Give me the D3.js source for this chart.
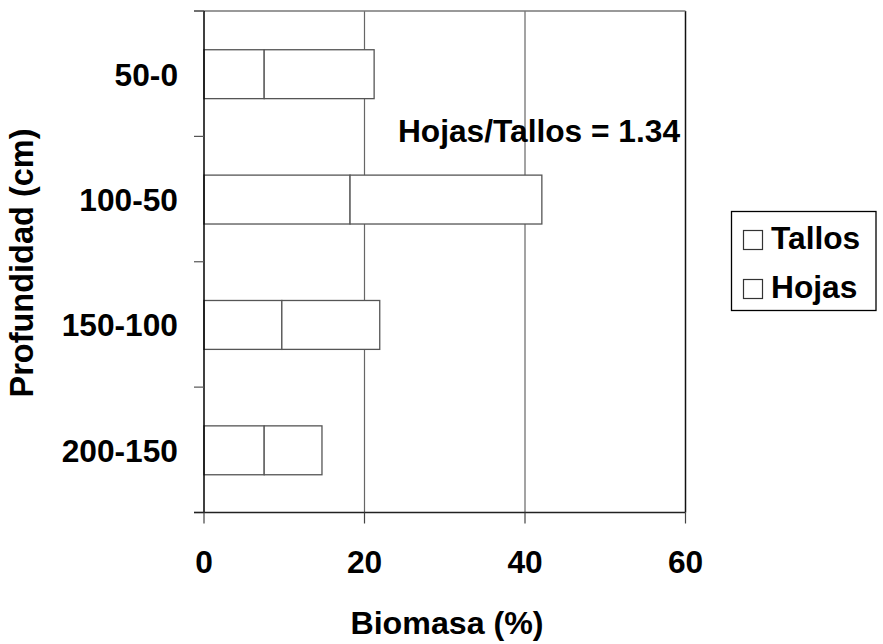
<!DOCTYPE html>
<html><head><meta charset="utf-8">
<script src="https://cdn.jsdelivr.net/npm/d3@7"></script>
<style>body{margin:0;background:#fff}svg{display:block}text{font-family:"Liberation Sans",Arial,sans-serif;font-weight:bold;fill:#000}</style>
</head><body>
<svg id="c" width="883" height="644"></svg>
<script>
const categories = ["50-0", "100-50", "150-100", "200-150"];
const seriesNames = ["Tallos", "Hojas"];
const tallos = [7.5, 18.2, 9.7, 7.5];
const hojas = [13.7, 23.9, 12.2, 7.2];
const xTicks = [0, 20, 40, 60];
const annotation = "Hojas/Tallos = 1.34";

const svg = d3.select("#c");
const L = 204, R = 685.5, T = 11, B = 512.5;
const x = d3.scaleLinear().domain([0, 60]).range([L, R]);
const y = d3.scaleBand().domain(categories).range([T, B]).paddingInner(0.61).paddingOuter(0.305);
const FS = 31.7;

// gridlines
svg.append("g").selectAll("line").data(xTicks.filter(d => d > 0)).join("line")
  .attr("x1", d => x(d)).attr("x2", d => x(d)).attr("y1", T).attr("y2", B)
  .attr("stroke", d => d === 60 ? "#111" : "#666").attr("stroke-width", d => d === 60 ? 1.5 : 1.2);
// top border line
svg.append("line").attr("x1", L - 10).attr("x2", R).attr("y1", T).attr("y2", T).attr("stroke", "#777").attr("stroke-width", 1.5);

// bars
const stackData = categories.map((c, i) => ({cat: c, vals: [tallos[i], hojas[i]]}));
const g = svg.append("g");
stackData.forEach(d => {
  let start = 0;
  d.vals.forEach((v, j) => {
    g.append("rect")
      .attr("x", x(start)).attr("y", y(d.cat) + 0.5)
      .attr("width", x(start + v) - x(start)).attr("height", y.bandwidth())
      .attr("fill", "#fff").attr("stroke", "#555").attr("stroke-width", 1.3);
    start += v;
  });
});

// y axis
svg.append("line").attr("x1", L).attr("x2", L).attr("y1", T).attr("y2", B).attr("stroke", "#000").attr("stroke-width", 1.5);
const bounds = categories.map(c => y(c) - y.step() * y.paddingInner() / 2);
bounds.push(B);
svg.append("g").selectAll("line").data(bounds).join("line")
  .attr("x1", L - 10).attr("x2", L).attr("y1", d => d).attr("y2", d => d)
  .attr("stroke", "#555").attr("stroke-width", 1.2);
svg.append("g").selectAll("text").data(categories).join("text")
  .attr("x", 178).attr("y", d => y(d) + y.bandwidth() / 2 + 12)
  .attr("text-anchor", "end").attr("font-size", FS).text(d => d);

// x axis
svg.append("line").attr("x1", L - 10).attr("x2", R).attr("y1", B).attr("y2", B).attr("stroke", "#222").attr("stroke-width", 1.5);
svg.append("g").selectAll("line").data(xTicks).join("line")
  .attr("x1", d => x(d)).attr("x2", d => x(d)).attr("y1", B).attr("y2", B + 11)
  .attr("stroke", "#444").attr("stroke-width", 1.2);
svg.append("g").selectAll("text").data(xTicks).join("text")
  .attr("x", d => x(d)).attr("y", 573).attr("text-anchor", "middle").attr("font-size", FS).text(d => d);

// axis titles
svg.append("text").attr("x", 447).attr("y", 634).attr("text-anchor", "middle").attr("font-size", FS + 0.5).text("Biomasa (%)");
svg.append("text").attr("transform", "translate(33,263) rotate(-90)").attr("text-anchor", "middle").attr("font-size", FS + 0.8).text("Profundidad (cm)");

// annotation
svg.append("text").attr("x", 680).attr("y", 142).attr("text-anchor", "end").attr("font-size", FS).text(annotation);

// legend
svg.append("rect").attr("x", 731.5).attr("y", 211.5).attr("width", 144.5).attr("height", 99)
  .attr("fill", "#fff").attr("stroke", "#000").attr("stroke-width", 1.3);
seriesNames.forEach((s, i) => {
  const yy = 230 + i * 49;
  svg.append("rect").attr("x", 743.5).attr("y", yy + 0.5).attr("width", 19).attr("height", 19)
    .attr("fill", "#fff").attr("stroke", "#333").attr("stroke-width", 1.2);
  svg.append("text").attr("x", 771).attr("y", yy + 19).attr("font-size", FS).text(s);
});
</script>
</body></html>
